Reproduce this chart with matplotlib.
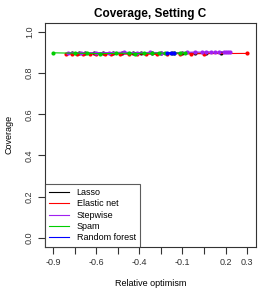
import matplotlib
matplotlib.use("Agg")
import matplotlib.pyplot as plt

plt.rcParams['font.family'] = ['Liberation Sans', 'DejaVu Sans']

# x positions are in tick-index units (evenly spaced ticks)
tick_labels = ["-0.9", "", "-0.6", "", "-0.4", "", "-0.1", "", "0.2", "0.3"]
y_ticks = [0.0, 0.2, 0.4, 0.6, 0.8, 1.0]

methods = ["Lasso", "Elastic net", "Stepwise", "Spam", "Random forest"]
colors = ["black", "red", "#A020F0", "#00CD00", "blue"]

lasso_x = [0.9, 1.2, 1.5, 1.9, 2.3, 2.8, 3.2, 3.7, 4.1, 4.6, 5.0, 5.5, 6.0, 6.6, 7.1, 7.8]
lasso_y = [0.899, 0.898, 0.897, 0.898, 0.897, 0.896, 0.897, 0.898, 0.897, 0.896, 0.897, 0.897, 0.898, 0.897, 0.897, 0.896]

enet_x = [0.6, 0.9, 1.1, 1.4, 1.7, 2.0, 2.4, 2.7, 3.1, 3.5, 3.9, 4.3, 4.8, 5.3, 5.9, 6.4, 7.0, 9.0]
enet_y = [0.895, 0.893, 0.891, 0.892, 0.894, 0.892, 0.893, 0.891, 0.894, 0.892, 0.893, 0.893, 0.891, 0.894, 0.895, 0.894, 0.895, 0.896]

step_x = [0.7, 1.3, 2.0, 2.6, 3.3, 3.9, 4.5, 5.0, 5.6, 6.2, 6.6, 6.9, 7.1, 7.3, 7.5, 7.7, 7.9, 8.0, 8.1, 8.2]
step_y = [0.900, 0.899, 0.899, 0.900, 0.902, 0.899, 0.901, 0.900, 0.900, 0.901, 0.903, 0.902, 0.904, 0.903, 0.902, 0.903, 0.904, 0.905, 0.903, 0.904]

spam_x = [0.0, 1.0, 1.6, 2.2, 2.9, 3.5, 3.8, 4.2, 4.6, 4.9, 5.2, 5.6, 5.9, 6.1]
spam_y = [0.899, 0.897, 0.896, 0.895, 0.896, 0.897, 0.895, 0.897, 0.896, 0.898, 0.897, 0.898, 0.898, 0.899]

rf_x = [5.3, 5.45, 5.6]
rf_y = [0.898, 0.899, 0.898]

series = [(lasso_x, lasso_y), (enet_x, enet_y), (step_x, step_y), (spam_x, spam_y), (rf_x, rf_y)]

fig = plt.figure(figsize=(2.66, 2.92), dpi=100)
ax = fig.add_axes([0.169, 0.155, 0.793, 0.767])

for (xs, ys), c in zip(series, colors):
    ax.plot(xs, ys, color=c, lw=0.8, marker='o', ms=3.0, mec=c, mfc=c, mew=0)

ax.set_xlim(-0.37, 9.4)
ax.set_ylim(-0.044, 1.045)
ax.set_xticks(range(len(tick_labels)))
ax.set_xticklabels(tick_labels)
ax.set_yticks(y_ticks)
ax.set_yticklabels([f"{v:.1f}" for v in y_ticks], rotation=90, va='center')
ax.tick_params(direction='out', length=5, width=0.8, labelsize=6.5, colors='#333333', pad=3)
for s in ax.spines.values():
    s.set_linewidth(0.8)
    s.set_color('#333333')

ax.set_title("Coverage, Setting C", fontsize=8.5, fontweight='bold', pad=4)
ax.set_xlabel("Relative optimism", fontsize=6.5, labelpad=9)
ax.set_ylabel("Coverage", fontsize=6.5, labelpad=8)

handles = [plt.Line2D([], [], color=c, lw=0.8) for c in colors]
leg = ax.legend(handles, methods, loc='lower left', fontsize=6.5, frameon=True,
                fancybox=False, edgecolor='#333333', borderaxespad=0,
                handlelength=2.2, handletextpad=0.8, labelspacing=0.25,
                borderpad=0.5)
leg.get_frame().set_linewidth(0.8)

fig.savefig("out.png", dpi=100)
